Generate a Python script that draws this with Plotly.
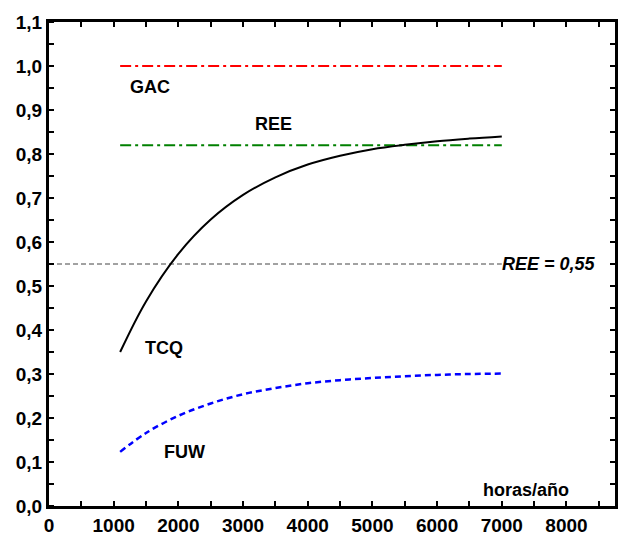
import plotly.graph_objects as go

# Horas de funcionamiento al año
tcq_h = [1100, 1500, 2000, 2500, 3000, 3500, 4000, 4500, 5000, 5500, 6000, 6500, 7000]
tcq_v = [0.350, 0.465, 0.573, 0.651, 0.707, 0.747, 0.776, 0.796, 0.811, 0.821, 0.829, 0.835, 0.840]

fuw_h = [1100, 1500, 2000, 2500, 3000, 3500, 4000, 4500, 5000, 5500, 6000, 6500, 7000]
fuw_v = [0.123, 0.166, 0.205, 0.233, 0.254, 0.268, 0.279, 0.286, 0.291, 0.295, 0.298, 0.300, 0.301]

ref_h = [1100, 7000]
gac_v = [1.0, 1.0]
ree_v = [0.82, 0.82]

umbral_h = [0, 7000]
umbral_v = [0.55, 0.55]

y_ticks = [0.0, 0.1, 0.2, 0.3, 0.4, 0.5, 0.6, 0.7, 0.8, 0.9, 1.0, 1.1]
y_labels = ["0,0", "0,1", "0,2", "0,3", "0,4", "0,5", "0,6", "0,7", "0,8", "0,9", "1,0", "1,1"]
x_ticks = [0, 1000, 2000, 3000, 4000, 5000, 6000, 7000, 8000]

FONT = "Liberation Sans, Arial, sans-serif"
X_RANGE = [0, 8750]
Y_RANGE = [0, 1.1]

fig = go.Figure()

fig.add_trace(go.Scatter(x=umbral_h, y=umbral_v, mode="lines",
                         line=dict(color="#444444", width=1, dash="5px,3px")))
fig.add_trace(go.Scatter(x=ref_h, y=gac_v, mode="lines",
                         line=dict(color="#ff0000", width=2, dash="11px,4px,3px,4px")))
fig.add_trace(go.Scatter(x=ref_h, y=ree_v, mode="lines",
                         line=dict(color="#008000", width=2, dash="11px,4px,3px,4px")))
fig.add_trace(go.Scatter(x=tcq_h, y=tcq_v, mode="lines",
                         line=dict(color="black", width=2, shape="spline", smoothing=1)))
fig.add_trace(go.Scatter(x=fuw_h, y=fuw_v, mode="lines",
                         line=dict(color="#0000ff", width=2.5, dash="6px,4px",
                                   shape="spline", smoothing=1)))
# eje derecho: solo marcas interiores
fig.add_trace(go.Scatter(x=[None], y=[None], yaxis="y2", showlegend=False))

labels = [
    ("GAC", 1554, 0.953, "center", False),
    ("REE", 3477, 0.868, "center", False),
    ("TCQ", 1785, 0.359, "center", False),
    ("FUW", 2092, 0.122, "center", False),
    ("horas/año", 7370, 0.036, "center", False),
    ("REE = 0,55", 6975, 0.551, "left", True),
]
for text, x, y, anchor, italic in labels:
    t = f"<i>{text}</i>" if italic else text
    fig.add_annotation(x=x, y=y, text=f"<b>{t}</b>", showarrow=False,
                       xanchor=anchor, yanchor="middle",
                       font=dict(family=FONT, size=18, color="black"))

fig.update_layout(
    width=625, height=543,
    margin=dict(l=49, r=7, t=22, b=34),
    paper_bgcolor="white", plot_bgcolor="white",
    showlegend=False,
    font=dict(family=FONT, size=19, color="black"),
    xaxis=dict(range=X_RANGE, tickvals=x_ticks, ticktext=[str(v) for v in x_ticks],
               ticks="inside", ticklen=5, tickwidth=1.5, tickcolor="black",
               minor=dict(dtick=500, tick0=0, ticks="inside", ticklen=5,
                          tickwidth=1.5, tickcolor="black"),
               showline=True, linecolor="black", linewidth=3, mirror="ticks",
               showgrid=False, zeroline=False,
               tickfont=dict(family=FONT, size=19, color="black", weight="bold")),
    yaxis=dict(range=Y_RANGE, tickvals=y_ticks, ticktext=y_labels,
               ticks="", ticklen=0,
               minor=dict(dtick=0.05, tick0=0, ticks="inside", ticklen=5,
                          tickwidth=1.5, tickcolor="black"),
               showline=True, linecolor="black", linewidth=3, mirror=True,
               showgrid=False, zeroline=False,
               tickfont=dict(family=FONT, size=19, color="black", weight="bold")),
    yaxis2=dict(range=Y_RANGE, overlaying="y", side="right", dtick=0.05, tick0=0,
                ticks="inside", ticklen=5, tickwidth=1.5, tickcolor="black",
                showticklabels=False, showline=False, showgrid=False, zeroline=False),
)

fig.write_html("out.html")
